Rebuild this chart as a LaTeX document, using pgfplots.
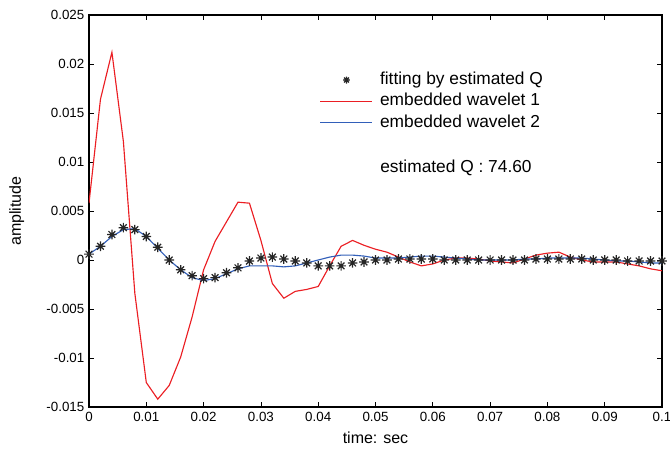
\documentclass[border=0pt]{standalone}
\usepackage{fontspec}
\setmainfont{Liberation Sans}
\usepackage{pgfplots}
\pgfplotsset{compat=1.18}
\definecolor{wred}{RGB}{235,30,35}
\definecolor{wblue}{RGB}{50,95,185}
% matlab-like asterisk: + and x together
\pgfdeclareplotmark{mstar}{%
  \pgfpathmoveto{\pgfqpoint{-\pgfplotmarksize}{0pt}}\pgfpathlineto{\pgfqpoint{\pgfplotmarksize}{0pt}}%
  \pgfpathmoveto{\pgfqpoint{0pt}{-\pgfplotmarksize}}\pgfpathlineto{\pgfqpoint{0pt}{\pgfplotmarksize}}%
  \pgfpathmoveto{\pgfqpoint{-0.7\pgfplotmarksize}{-0.7\pgfplotmarksize}}\pgfpathlineto{\pgfqpoint{0.7\pgfplotmarksize}{0.7\pgfplotmarksize}}%
  \pgfpathmoveto{\pgfqpoint{-0.7\pgfplotmarksize}{0.7\pgfplotmarksize}}\pgfpathlineto{\pgfqpoint{0.7\pgfplotmarksize}{-0.7\pgfplotmarksize}}%
  \pgfusepathqstroke}
\pgfplotsset{
  lineleg/.style={legend image code/.code={\draw[##1] (0pt,0pt) -- (39pt,0pt);}},
  markleg/.style={legend image code/.code={\draw[##1, mark size=2.6pt] plot coordinates {(19.5pt,0pt)};}},
}

\begin{document}
\fontsize{10}{12}\selectfont
\begin{tikzpicture}
\useasboundingbox (-66.75pt,-33pt) rectangle (435.75pt,305.25pt);
\begin{axis}[
  scale only axis, width=429.75pt, height=294pt,
  at={(0,0)}, anchor=south west,
  xmin=0, xmax=0.1, ymin=-0.015, ymax=0.025,
  scaled x ticks=false, scaled y ticks=false,
  xtick={0,0.01,...,0.1}, ytick={-0.015,-0.01,...,0.025},
  xticklabels={0,0.01,0.02,0.03,0.04,0.05,0.06,0.07,0.08,0.09,0.1},
  yticklabels={-0.015,-0.01,-0.005,0,0.005,0.01,0.015,0.02,0.025},
  tick align=inside, major tick length=3.5pt,
  axis line style={black, line width=0.8pt}, tick style={black, line width=0.6pt},
  xlabel={time: sec}, ylabel={amplitude},
  every tick label/.append style={font=\fontsize{10}{12}\selectfont},
  label style={font=\fontsize{12}{14}\selectfont},
  ylabel style={at={(axis description cs:-0.126,0.5)}, anchor=center},
  xlabel style={at={(axis description cs:0.5,-0.079)}, anchor=center},
  legend style={at={(axis cs:0.0403,0.0192)}, anchor=north west,
                draw=none, fill=none, inner sep=0pt, outer sep=0pt,
                font=\fontsize{13}{15}\selectfont,
                nodes={inner sep=0pt, text height=9.5pt, text depth=2.8pt},
                row sep=3.7pt, column sep=5.25pt},
  legend cell align=left,
]
\addplot[only marks, mark=mstar, mark size=3.6pt, black!85, line width=0.9pt, markleg] coordinates {
 (0,0.0006) (0.002,0.0014) (0.004,0.0026) (0.006,0.0033) (0.008,0.0031)
 (0.010,0.0024) (0.012,0.0013) (0.014,0.0000) (0.016,-0.0010) (0.018,-0.0016)
 (0.020,-0.0019) (0.022,-0.0018) (0.024,-0.0013) (0.026,-0.0008) (0.028,-0.0001)
 (0.030,0.0002) (0.032,0.0003) (0.034,0.0001) (0.036,-0.0001) (0.038,-0.0003)
 (0.040,-0.0006) (0.042,-0.0006) (0.044,-0.0006) (0.046,-0.0003) (0.048,-0.0002)
 (0.050,0.0000) (0.052,0.0000) (0.054,0.0001) (0.056,0.0001) (0.058,0.0001)
 (0.060,0.0001) (0.062,0.0000) (0.064,0.0000) (0.066,0.0000) (0.068,0.0000)
 (0.070,0.0000) (0.072,0.0000) (0.074,0.0000) (0.076,0.0000) (0.078,0.0001)
 (0.080,0.0001) (0.082,0.0001) (0.084,0.0001) (0.086,0.0001) (0.088,0.0000)
 (0.090,0.0000) (0.092,0.0000) (0.094,-0.0001) (0.096,-0.0001) (0.098,-0.0001)
 (0.100,-0.0001)};
\addlegendentry{fitting by estimated Q}
\addplot[wred, line width=0.85pt, lineleg] coordinates {
 (0,0.0058) (0.002,0.0164) (0.004,0.0212) (0.006,0.0121) (0.008,-0.0034)
 (0.010,-0.0125) (0.012,-0.0142) (0.014,-0.0128) (0.016,-0.0099) (0.018,-0.0058)
 (0.020,-0.0010) (0.022,0.0019) (0.024,0.0039) (0.026,0.0059) (0.028,0.0058)
 (0.030,0.0020) (0.032,-0.0024) (0.034,-0.0039) (0.036,-0.0032) (0.038,-0.0030)
 (0.040,-0.0027) (0.042,-0.0006) (0.044,0.0014) (0.046,0.0020) (0.048,0.0015)
 (0.050,0.0011) (0.052,0.0008) (0.054,0.0003) (0.056,-0.0002) (0.058,-0.0006)
 (0.060,-0.0004) (0.062,0.0000) (0.064,0.0002) (0.066,0.0002) (0.068,0.0001)
 (0.070,-0.0001) (0.072,-0.0002) (0.074,-0.0003) (0.076,0.0001) (0.078,0.0005)
 (0.080,0.0007) (0.082,0.0008) (0.084,0.0003) (0.086,0.0000) (0.088,-0.0002)
 (0.090,-0.0002) (0.092,-0.0002) (0.094,-0.0004) (0.096,-0.0006) (0.098,-0.0009)
 (0.100,-0.0011)};
\addlegendentry{embedded wavelet 1}
\addplot[wblue, line width=0.85pt, lineleg] coordinates {
 (0,0.0006) (0.002,0.0014) (0.004,0.0024) (0.006,0.0031) (0.008,0.0032)
 (0.010,0.0024) (0.012,0.0012) (0.014,0.0000) (0.016,-0.0010) (0.018,-0.0018)
 (0.020,-0.0021) (0.022,-0.0019) (0.024,-0.0014) (0.026,-0.0009) (0.028,-0.0006)
 (0.030,-0.0006) (0.032,-0.0006) (0.034,-0.0007) (0.036,-0.0006) (0.038,-0.0003)
 (0.040,0.0000) (0.042,0.0003) (0.044,0.0005) (0.046,0.0005) (0.048,0.0004)
 (0.050,0.0002) (0.052,0.0002) (0.054,0.0002) (0.056,0.0003) (0.058,0.0004)
 (0.060,0.0004) (0.062,0.0003) (0.064,0.0002) (0.066,0.0001) (0.068,0.0000)
 (0.070,0.0000) (0.072,0.0000) (0.074,0.0000) (0.076,0.0001) (0.078,0.0001)
 (0.080,0.0002) (0.082,0.0002) (0.084,0.0002) (0.086,0.0002) (0.088,0.0001)
 (0.090,0.0000) (0.092,-0.0001) (0.094,-0.0001) (0.096,-0.0002) (0.098,-0.0003)
 (0.100,-0.0003)};
\addlegendentry{embedded wavelet 2}
\node[anchor=west, inner sep=0pt, font=\fontsize{13}{15}\selectfont] at (axis cs:0.0508,0.0094) {estimated Q : 74.60};
\end{axis}
\end{tikzpicture}
\end{document}
